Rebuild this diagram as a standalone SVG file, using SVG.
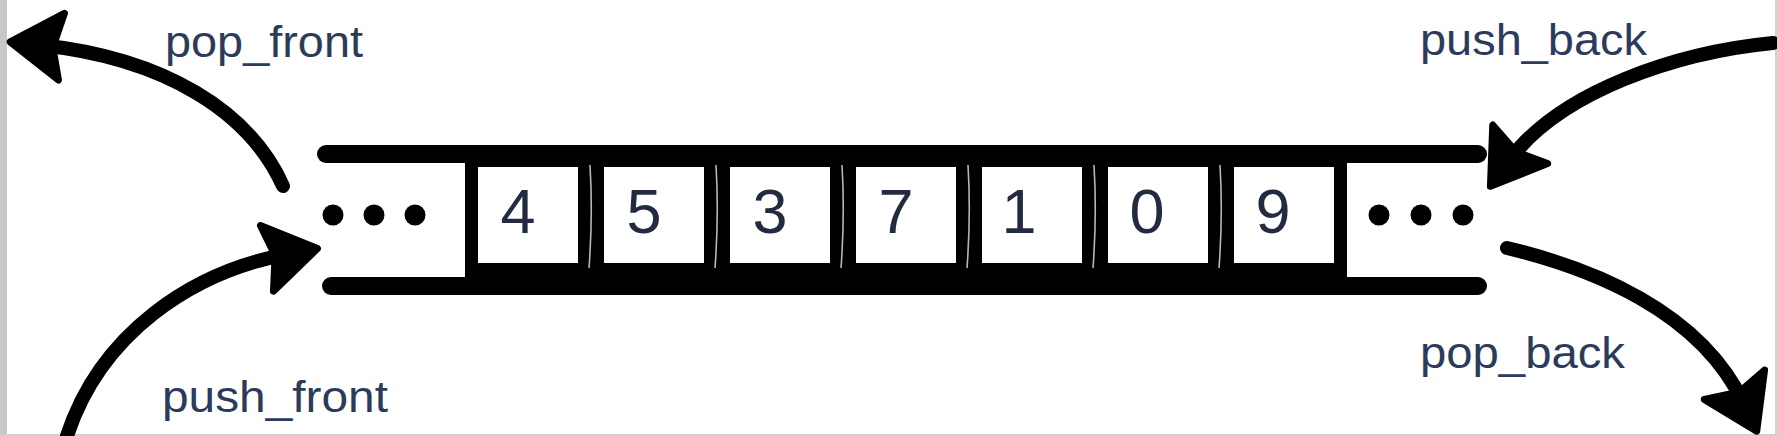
<svg xmlns="http://www.w3.org/2000/svg" width="1777" height="436" viewBox="0 0 1777 436">
<style>
.rail{stroke:#000;stroke-width:18;stroke-linecap:round;fill:none}
.arrow{stroke:#000;stroke-width:14;stroke-linecap:round;fill:none;marker-end:url(#ah)}
.cell{fill:#fff}
.sep{stroke:#b8b8b8;stroke-width:1.6;fill:none}
.digit{font-family:"Liberation Sans",Arial,sans-serif;font-size:63px;fill:#222b40;text-anchor:middle}
.label{font-family:"Liberation Sans",Arial,sans-serif;font-size:45px;fill:#2d3b5a}
.dot{fill:#000}
</style>
<defs>
<marker id="ah" markerUnits="userSpaceOnUse" viewBox="-66 -44 74 88" markerWidth="74" markerHeight="88" refX="-30" refY="0" orient="auto">
<path d="M0,0 L-52,-33 L-43,-1 L-51,34 Z" fill="#000" stroke="#000" stroke-width="7" stroke-linejoin="round"/>
</marker>
</defs>
<rect x="0" y="0" width="1777" height="436" fill="#fff"/>
<rect x="0" y="0" width="7" height="436" fill="#c8c8c8"/>
<rect x="1775" y="0" width="2" height="436" fill="#d0d0d0"/>
<rect x="0" y="434" width="1777" height="2" fill="#d0d0d0"/>

<g id="deque">
<rect x="465" y="150" width="882" height="140" fill="#000"/>
<line class="rail" x1="326" y1="154" x2="1478" y2="154"/>
<line class="rail" x1="331" y1="286" x2="1478" y2="286"/>
</g>

<g id="cell-4"><rect class="cell" x="478" y="167" width="100" height="96"/><text class="digit" x="518" y="233">4</text></g>
<g id="cell-5"><rect class="cell" x="604" y="167" width="100" height="96"/><text class="digit" x="644" y="233">5</text></g>
<g id="cell-3"><rect class="cell" x="730" y="167" width="100" height="96"/><text class="digit" x="770" y="233">3</text></g>
<g id="cell-7"><rect class="cell" x="856" y="167" width="100" height="96"/><text class="digit" x="896" y="233">7</text></g>
<g id="cell-1"><rect class="cell" x="982" y="167" width="100" height="96"/><text class="digit" x="1019" y="233">1</text></g>
<g id="cell-0"><rect class="cell" x="1108" y="167" width="100" height="96"/><text class="digit" x="1147" y="233">0</text></g>
<g id="cell-9"><rect class="cell" x="1234" y="167" width="100" height="96"/><text class="digit" x="1273" y="233">9</text></g>

<g id="separators">
<path class="sep" d="M590,165 Q593,215 589,268"/>
<path class="sep" d="M716,165 Q719,215 715,268"/>
<path class="sep" d="M842,165 Q845,215 841,268"/>
<path class="sep" d="M968,165 Q971,215 967,268"/>
<path class="sep" d="M1094,165 Q1097,215 1093,268"/>
<path class="sep" d="M1220,165 Q1223,215 1219,268"/>
</g>

<g id="dots-front">
<circle class="dot" cx="333" cy="215" r="10.5"/>
<circle class="dot" cx="374" cy="215" r="10.5"/>
<circle class="dot" cx="415" cy="215" r="10.5"/>
</g>
<g id="dots-back">
<circle class="dot" cx="1379" cy="215" r="10.5"/>
<circle class="dot" cx="1421" cy="215" r="10.5"/>
<circle class="dot" cx="1463" cy="215" r="10.5"/>
</g>

<g id="connectors">
<path id="a-pop-front" class="arrow" d="M283,186 C250,112 165,58 40,45"/>
<path id="a-push-front" class="arrow" d="M67,436 C100,335 190,272 288,254"/>
<path id="a-push-back" class="arrow" d="M1773,43 C1680,52 1560,90 1508,162"/>
<path id="a-pop-back" class="arrow" d="M1507,248 C1590,268 1700,310 1744,404"/>
</g>

<g id="labels">
<text class="label" x="165" y="57" textLength="198" lengthAdjust="spacingAndGlyphs">pop_front</text>
<text class="label" x="162" y="412" textLength="226" lengthAdjust="spacingAndGlyphs">push_front</text>
<text class="label" x="1420" y="55" textLength="227" lengthAdjust="spacingAndGlyphs">push_back</text>
<text class="label" x="1420" y="368" textLength="205" lengthAdjust="spacingAndGlyphs">pop_back</text>
</g>
</svg>
